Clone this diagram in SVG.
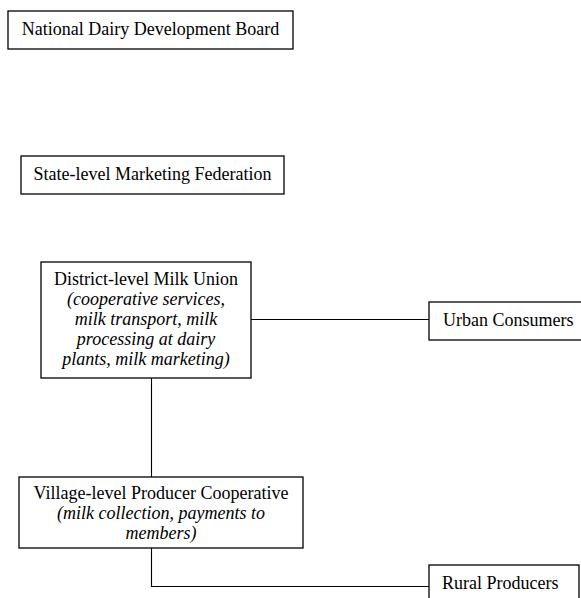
<svg xmlns="http://www.w3.org/2000/svg" width="581" height="598" viewBox="0 0 581 598">
<style>
.box{fill:#fff;stroke:#000;stroke-width:1.3}
.t{font-family:'Liberation Serif',Tinos,'Times New Roman','DejaVu Serif',serif;font-size:18px;fill:#000}
.i{font-style:italic}
.c{text-anchor:middle}
.conn{stroke:#000;stroke-width:1.1;fill:none}
</style>
<rect width="581" height="598" fill="#fff"/>
<g id="connectors">
<path class="conn" d="M251,319.5 H429"/>
<path class="conn" d="M151.5,378 V477"/>
<path class="conn" d="M151.5,548 V586.5 H429"/>
</g>
<g id="nddb">
<rect class="box" x="8" y="11" width="285" height="38"/>
<text class="t c" x="150.5" y="35" font-family="Liberation Serif">National Dairy Development Board</text>
</g>
<g id="state">
<rect class="box" x="21" y="156" width="263" height="38"/>
<text class="t c" x="152.5" y="180">State-level Marketing Federation</text>
</g>
<g id="district">
<rect class="box" x="41" y="262" width="210" height="116"/>
<text class="t c" x="146" y="285">District-level Milk Union</text>
<text class="t c i" x="146" y="305">(cooperative services,</text>
<text class="t c i" x="146" y="325">milk transport, milk</text>
<text class="t c i" x="146" y="345">processing at dairy</text>
<text class="t c i" x="146" y="365">plants, milk marketing)</text>
</g>
<g id="urban">
<rect class="box" x="429" y="302" width="158" height="38"/>
<text class="t" x="443" y="326">Urban Consumers</text>
</g>
<g id="village">
<rect class="box" x="19" y="477" width="284" height="71"/>
<text class="t c" x="161" y="499">Village-level Producer Cooperative</text>
<text class="t c i" x="161" y="519">(milk collection, payments to</text>
<text class="t c i" x="161" y="539">members)</text>
</g>
<g id="rural">
<rect class="box" x="429" y="565" width="150" height="40"/>
<text class="t" x="442" y="589">Rural Producers</text>
</g>
</svg>
